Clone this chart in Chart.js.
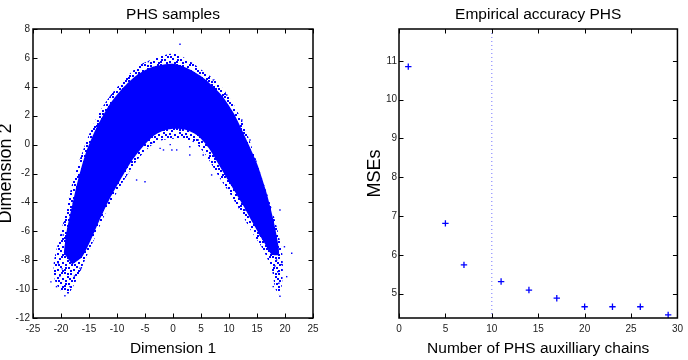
<!DOCTYPE html>
<html>
<head>
<meta charset="utf-8">
<script src="https://cdn.jsdelivr.net/npm/chart.js@4.4.1/dist/chart.umd.min.js"></script>
<style>
  html, body { margin: 0; padding: 0; background: #fff; }
  #wrap { position: relative; width: 688px; height: 360px; overflow: hidden; }
  canvas { position: absolute; top: 0; }
  #left { left: 0; }
  #right { left: 344px; }
</style>
</head>
<body>
<div id="wrap">
  <canvas id="left" width="344" height="360"></canvas>
  <canvas id="right" width="344" height="360"></canvas>
</div>
<script>
// ---- left panel: PHS samples (cloud read off the picture as outlines + strays)
// sparse outer extent of the cloud
const haloOutline = [
  [-19.6,-10.3],[-21,-9.5],[-21.3,-8.2],[-20.3,-6.5],[-19.2,-4.8],[-18.2,-3],[-16.8,-1.2],
  [-15.2,0.5],[-13.2,2.2],[-11,3.5],[-8.5,4.6],[-6,5.5],[-3,6],[0,6.3],[2.5,5.9],[5,5.2],
  [8,4.3],[10.5,3],[12.5,1.5],[14.2,-0.3],[15.8,-2.2],[17.3,-4],[18.6,-5.8],[19.5,-7.5],
  [19.6,-9],[19.1,-10.4],
  [18.3,-10],[17.6,-8.6],[16,-7.2],[14,-6],[12,-4.6],[10,-3.3],[8,-2.1],[6,-0.8],[4,0.1],
  [2,0.4],[0,0.4],[-2,0.3],[-4,-0.1],[-6,-0.9],[-8,-2],[-10,-3.3],[-12,-4.7],[-13.8,-6.3],
  [-15.5,-7.8],[-17,-9.2],[-18.5,-10.3]
];
// dense (solid) band
const coreOutline = [
  [-19.5,-7.5],[-19,-6],[-18,-4.2],[-17,-2.5],[-15.5,-0.5],[-13.5,1.3],[-11.3,2.8],[-9,3.9],
  [-6.5,4.8],[-3.5,5.4],[0,5.6],[2.5,5.3],[5.5,4.6],[8.5,3.5],[10.8,2.2],[12.8,0.6],
  [15,-1.3],[16.6,-3.2],[17.8,-5],[18.6,-6.5],[18.9,-7.6],
  [17.6,-7.6],[16.3,-6.8],[14.5,-5.6],[12.5,-4.2],[10.5,-2.9],[8.5,-1.6],[6.5,-0.3],
  [4.5,0.6],[2.5,1.0],[0.5,1.1],[-1.5,1.0],[-3.5,0.6],[-5.5,-0.2],[-7.5,-1.2],[-9.5,-2.5],
  [-11.5,-3.9],[-13.2,-5.3],[-14.8,-6.7],[-16.3,-7.8],[-18,-8.3]
];
const strayPoints = [
  [1.25,6.95],[-4.4,5.74],[-5.6,5.5],[-7.1,4.47],[-9.5,2.97],[-11.8,1.13],[-13.6,0.8],
  [7.2,4.47],[9.6,3.43],[12.3,1.7],[13.75,0.32],[-2.3,-0.26],[-0.5,0],[3,-0.15],[-3.8,0.1],
  [4.5,0.32],[-5,-2.57],[-6.5,-2.45],[-21.8,-9.5],[-20.8,-9.83],[-19.3,-10.46],[-18.4,-9.83],
  [-16.6,-8.56],[-15.1,-6.5],[-19.6,-6.26],[-17.8,-4.06],[-14.8,-0.6],[-1.7,-0.37],
  [0.66,-0.37],[-20.5,-8.2],[21.2,-7.52],[20.3,-9.14],[19.1,-10.5],[17.9,-9.83],
  [18.9,-9.6],[18.5,-7.99],[19.9,-7.07],[19.1,-4.53],[6.9,-2.1],[9.9,-3.03],[12.9,-4.53],
  [15.5,-6.26],[-0.2,-0.37],[3,-0.72],[5.4,-0.72],[-20.2,-9.1],[-19.8,-8.6],[-17.6,-9.1],
  [18.7,-8.8],[18.2,-8.4],[19.4,-8.3]
];

// ---- right panel: empirical accuracy
const chains = [1, 5, 7, 11, 14, 17, 20, 23, 26, 29];
const mses   = [10.85, 6.81, 5.74, 5.31, 5.09, 4.88, 4.66, 4.66, 4.66, 4.45];
const chainCut = 10;
const mseRange = [4.37, 11.82];

const SANS = '"Liberation Sans", Arial, Helvetica, sans-serif';
const BLUE = '#0000ff';

const pts = arr => arr.map(p => ({ x: p[0], y: p[1] }));

// speckle texture for the sparse fringe of the cloud (hand-placed dots, 16px tile)
function speckle() {
  const tile = document.createElement('canvas');
  tile.width = 16; tile.height = 16;
  const c = tile.getContext('2d');
  c.fillStyle = BLUE;
  [[0,0],[6,1],[11,2],[3,4],[9,5],[14,6],[1,8],[7,8],[12,10],[4,11],[9,13],[0,13],
   [14,14],[6,14],[13,0],[3,1],[10,8],[5,6],[1,11]]
    .forEach(d => c.fillRect(d[0], d[1], 2, 2));
  return c.createPattern(tile, 'repeat');
}

// inward ticks on all four sides + box, like the original figure
const boxTicks = {
  id: 'boxTicks',
  afterDraw(chart) {
    const { ctx, chartArea: a, scales } = chart;
    const tl = 4.5;
    ctx.save();
    ctx.strokeStyle = '#000';
    ctx.lineWidth = 1;
    ctx.beginPath();
    scales.x.ticks.forEach(t => {
      const px = Math.round(scales.x.getPixelForValue(t.value)) + 0.5;
      ctx.moveTo(px, a.bottom); ctx.lineTo(px, a.bottom - tl);
      ctx.moveTo(px, a.top);    ctx.lineTo(px, a.top + tl);
    });
    scales.y.ticks.forEach(t => {
      const py = Math.round(scales.y.getPixelForValue(t.value)) + 0.5;
      ctx.moveTo(a.left, py);  ctx.lineTo(a.left + tl, py);
      ctx.moveTo(a.right, py); ctx.lineTo(a.right - tl, py);
    });
    ctx.stroke();
    ctx.lineWidth = 1.5;
    ctx.strokeRect(a.left, a.top, a.right - a.left, a.bottom - a.top);
    ctx.restore();
  }
};

// title centred over the axes box (not over the whole canvas)
const axesTitle = {
  id: 'axesTitle',
  afterDraw(chart, args, opts) {
    const { ctx, chartArea: a } = chart;
    ctx.save();
    ctx.font = '15.5px ' + SANS;
    ctx.fillStyle = '#000';
    ctx.textAlign = 'center';
    ctx.textBaseline = 'alphabetic';
    ctx.fillText(opts.text, (a.left + a.right) / 2, 18.5);
    ctx.restore();
  }
};

function axisX(min, max, step, label) {
  return {
    type: 'linear', min, max,
    grid: { display: false, drawTicks: false },
    border: { display: false },
    ticks: { stepSize: step, includeBounds: false, padding: 5, maxRotation: 0,
             color: '#222', font: { family: SANS, size: 10 } },
    title: { display: true, text: label, color: '#000', padding: { top: 0, bottom: 2 },
             font: { family: SANS, size: 15.5 } },
    afterFit: s => { s.height = 42; }
  };
}
function axisY(min, max, step, label, width, pad, titlePad) {
  return {
    type: 'linear', min, max,
    grid: { display: false, drawTicks: false },
    border: { display: false },
    ticks: { stepSize: step, includeBounds: false, padding: pad,
             color: '#222', font: { family: SANS, size: 10 } },
    title: { display: true, text: label, color: '#000', padding: { top: titlePad, bottom: 0 },
             font: { family: SANS, size: 18 } },
    afterFit: s => { s.width = width; }
  };
}

const shape = (data, color) => ({
  data: pts(data), showLine: true, fill: 'shape', backgroundColor: color,
  borderWidth: 0, borderColor: color, pointRadius: 0, tension: 0.25
});

new Chart(document.getElementById('left'), {
  type: 'line',
  data: {
    datasets: [
      shape(haloOutline, speckle()),
      shape(coreOutline, BLUE),
      { data: pts(strayPoints), showLine: false, pointStyle: 'rect', pointRadius: 1,
        backgroundColor: BLUE, borderWidth: 0 }
    ]
  },
  options: {
    responsive: false, animation: false, devicePixelRatio: 1,
    layout: { padding: { left: 0, right: 31, top: 29, bottom: 0 } },
    plugins: { legend: { display: false }, tooltip: { enabled: false },
               axesTitle: { text: 'PHS samples' } },
    scales: {
      x: axisX(-25, 25, 5, 'Dimension 1'),
      y: axisY(-12, 8, 2, 'Dimension 2', 33, 3, -4.8)
    }
  },
  plugins: [boxTicks, axesTitle]
});

new Chart(document.getElementById('right'), {
  type: 'line',
  data: {
    datasets: [
      { data: chains.map((c, i) => ({ x: c, y: mses[i] })), showLine: false,
        pointStyle: 'cross', pointRadius: 3.2, borderColor: BLUE, borderWidth: 1.3 },
      { data: [{ x: chainCut, y: mseRange[0] }, { x: chainCut, y: mseRange[1] }],
        borderColor: 'rgba(60,60,255,0.7)', borderWidth: 1, borderDash: [1, 3],
        pointRadius: 0 }
    ]
  },
  options: {
    responsive: false, animation: false, devicePixelRatio: 1,
    layout: { padding: { left: 0, right: 10, top: 29, bottom: 0 } },
    plugins: { legend: { display: false }, tooltip: { enabled: false },
               axesTitle: { text: 'Empirical accuracy PHS' } },
    scales: {
      x: axisX(0, 30, 5, 'Number of PHS auxilliary chains'),
      y: axisY(mseRange[0], mseRange[1], 1, 'MSEs', 55, 2, 20.2)
    }
  },
  plugins: [boxTicks, axesTitle]
});
</script>
</body>
</html>
